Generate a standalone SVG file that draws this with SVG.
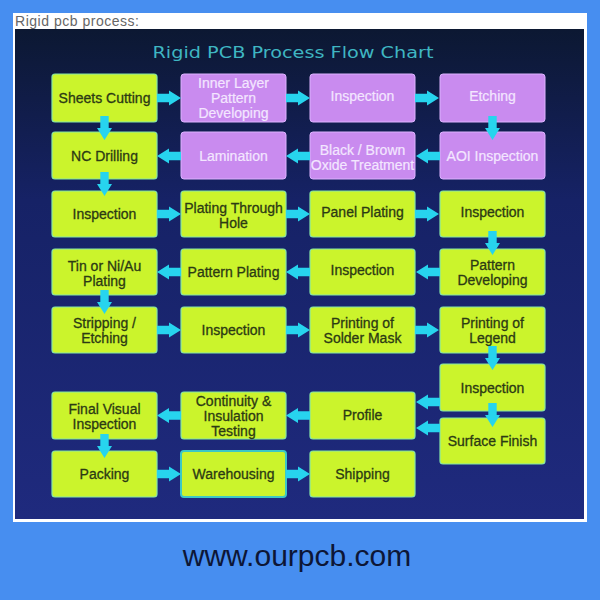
<svg xmlns="http://www.w3.org/2000/svg" width="600" height="600" viewBox="0 0 600 600">
<style>
.g rect{fill:#cbf42c;stroke:#86e6a6;stroke-width:1.2}
.p rect{fill:#c98bef;stroke:#dcb2ff;stroke-width:1}
.g text{fill:#2c3a14;stroke:#2c3a14;stroke-width:0.3}
.p text{fill:#f3e6ff;stroke:#f3e6ff;stroke-width:0.2}
text{font-family:"Liberation Sans",Arial,sans-serif;font-size:14px;text-anchor:middle}
.wh rect{stroke:#3cc8c4;stroke-width:2}
#connectors use{fill:#27d4ee}
</style>
<defs>
<linearGradient id="bg" x1="0" y1="0" x2="0" y2="1">
<stop offset="0" stop-color="#0c1832"/>
<stop offset="0.35" stop-color="#162266"/>
<stop offset="1" stop-color="#1f2a7e"/>
</linearGradient>
<path id="ar" d="M0,-4.2H12V-7.5L24,0L12,7.5V4.2H0Z"/>
</defs>
<rect width="600" height="600" fill="#478ef0"/>
<rect x="13" y="13" width="574" height="509" fill="#ffffff"/>
<text x="15" y="26" style="text-anchor:start;font-size:14px;fill:#666666" textLength="124">Rigid pcb process:</text>
<rect x="15" y="29" width="569" height="490" fill="url(#bg)"/>
<text x="293" y="58" style="font-family:'DejaVu Sans',sans-serif;font-size:16px;fill:#3fb6c2" textLength="281" lengthAdjust="spacingAndGlyphs">Rigid PCB Process Flow Chart</text>

<g id="n1" class="g"><rect x="52" y="74" width="105" height="48" rx="3"/><text x="104.5" y="103">Sheets Cutting</text></g>
<g id="n2" class="p"><rect x="181" y="74" width="105" height="48" rx="3"/><text x="233.5" y="88">Inner Layer</text><text x="233.5" y="103">Pattern</text><text x="233.5" y="118">Developing</text></g>
<g id="n3" class="p"><rect x="310" y="74" width="105" height="48" rx="3"/><text x="362.5" y="101">Inspection</text></g>
<g id="n4" class="p"><rect x="440" y="74" width="105" height="48" rx="3"/><text x="492.5" y="101">Etching</text></g>

<g id="n5" class="p"><rect x="440" y="132" width="105" height="47" rx="3"/><text x="492.5" y="161">AOI Inspection</text></g>
<g id="n6" class="p"><rect x="310" y="132" width="105" height="47" rx="3"/><text x="362.5" y="155">Black / Brown</text><text x="362.5" y="170">Oxide Treatment</text></g>
<g id="n7" class="p"><rect x="181" y="132" width="105" height="47" rx="3"/><text x="233.5" y="161">Lamination</text></g>
<g id="n8" class="g"><rect x="52" y="132" width="105" height="47" rx="3"/><text x="104.5" y="161">NC Drilling</text></g>

<g id="n9" class="g"><rect x="52" y="191" width="105" height="46" rx="3"/><text x="104.5" y="219">Inspection</text></g>
<g id="n10" class="g"><rect x="181" y="191" width="105" height="46" rx="3"/><text x="233.5" y="213">Plating Through</text><text x="233.5" y="228">Hole</text></g>
<g id="n11" class="g"><rect x="310" y="191" width="105" height="46" rx="3"/><text x="362.5" y="217">Panel Plating</text></g>
<g id="n12" class="g"><rect x="440" y="191" width="105" height="46" rx="3"/><text x="492.5" y="217">Inspection</text></g>

<g id="n13" class="g"><rect x="440" y="249" width="105" height="46" rx="3"/><text x="492.5" y="270">Pattern</text><text x="492.5" y="285">Developing</text></g>
<g id="n14" class="g"><rect x="310" y="249" width="105" height="46" rx="3"/><text x="362.5" y="275">Inspection</text></g>
<g id="n15" class="g"><rect x="181" y="249" width="105" height="46" rx="3"/><text x="233.5" y="277">Pattern Plating</text></g>
<g id="n16" class="g"><rect x="52" y="249" width="105" height="46" rx="3"/><text x="104.5" y="271">Tin or Ni/Au</text><text x="104.5" y="286">Plating</text></g>

<g id="n17" class="g"><rect x="52" y="307" width="105" height="46" rx="3"/><text x="104.5" y="328">Stripping /</text><text x="104.5" y="343">Etching</text></g>
<g id="n18" class="g"><rect x="181" y="307" width="105" height="46" rx="3"/><text x="233.5" y="335">Inspection</text></g>
<g id="n19" class="g"><rect x="310" y="307" width="105" height="46" rx="3"/><text x="362.5" y="328">Printing of</text><text x="362.5" y="343">Solder Mask</text></g>
<g id="n20" class="g"><rect x="440" y="307" width="105" height="46" rx="3"/><text x="492.5" y="328">Printing of</text><text x="492.5" y="343">Legend</text></g>

<g id="n21" class="g"><rect x="440" y="364" width="105" height="47" rx="3"/><text x="492.5" y="393">Inspection</text></g>
<g id="n22" class="g"><rect x="440" y="418" width="105" height="46" rx="3"/><text x="492.5" y="446">Surface Finish</text></g>
<g id="n23" class="g"><rect x="310" y="392" width="105" height="47" rx="3"/><text x="362.5" y="420">Profile</text></g>
<g id="n24" class="g"><rect x="181" y="392" width="105" height="47" rx="3"/><text x="233.5" y="406">Continuity &amp;</text><text x="233.5" y="421">Insulation</text><text x="233.5" y="436">Testing</text></g>
<g id="n25" class="g"><rect x="52" y="392" width="105" height="47" rx="3"/><text x="104.5" y="414">Final Visual</text><text x="104.5" y="429">Inspection</text></g>

<g id="n26" class="g"><rect x="52" y="451" width="105" height="46" rx="3"/><text x="104.5" y="479">Packing</text></g>
<g id="n27" class="g wh"><rect x="181" y="451" width="105" height="46" rx="3"/><text x="233.5" y="479">Warehousing</text></g>
<g id="n28" class="g"><rect x="310" y="451" width="105" height="46" rx="3"/><text x="362.5" y="479">Shipping</text></g>

<g id="connectors">
<use href="#ar" transform="translate(157,98)"/>
<use href="#ar" transform="translate(286,98)"/>
<use href="#ar" transform="translate(415,98)"/>
<use href="#ar" transform="translate(104.5,116) rotate(90)"/>
<use href="#ar" transform="translate(492.5,116) rotate(90)"/>
<use href="#ar" transform="translate(440,156) rotate(180)"/>
<use href="#ar" transform="translate(310,156) rotate(180)"/>
<use href="#ar" transform="translate(181,156) rotate(180)"/>
<use href="#ar" transform="translate(104.5,172) rotate(90)"/>
<use href="#ar" transform="translate(157,214)"/>
<use href="#ar" transform="translate(286,214)"/>
<use href="#ar" transform="translate(415,214)"/>
<use href="#ar" transform="translate(492.5,231) rotate(90)"/>
<use href="#ar" transform="translate(440,272) rotate(180)"/>
<use href="#ar" transform="translate(310,272) rotate(180)"/>
<use href="#ar" transform="translate(181,272) rotate(180)"/>
<use href="#ar" transform="translate(104.5,290) rotate(90)"/>
<use href="#ar" transform="translate(157,330)"/>
<use href="#ar" transform="translate(286,330)"/>
<use href="#ar" transform="translate(415,330)"/>
<use href="#ar" transform="translate(492.5,346) rotate(90)"/>
<use href="#ar" transform="translate(440,402) rotate(180)"/>
<use href="#ar" transform="translate(492.5,403) rotate(90)"/>
<use href="#ar" transform="translate(440,428) rotate(180)"/>
<use href="#ar" transform="translate(310,415.5) rotate(180)"/>
<use href="#ar" transform="translate(181,415.5) rotate(180)"/>
<use href="#ar" transform="translate(104.5,434) rotate(90)"/>
<use href="#ar" transform="translate(157,474)"/>
<use href="#ar" transform="translate(286,474)"/>
</g>

<text x="297" y="566" style="font-size:30px;fill:#0d1636">www.ourpcb.com</text>
</svg>
